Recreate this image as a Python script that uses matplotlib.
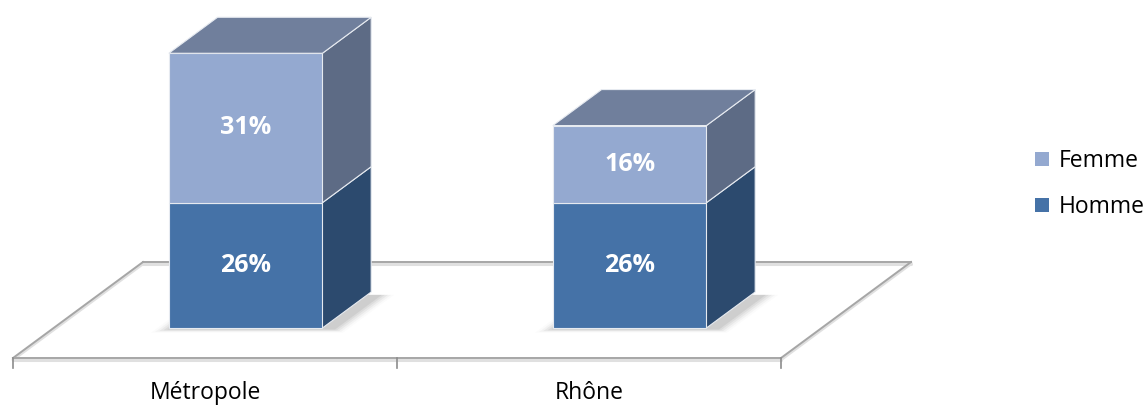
import matplotlib
matplotlib.use("Agg")
import matplotlib.pyplot as plt
from matplotlib.patches import Polygon, Patch
import numpy as np

# ---- data ----
categories = ["Métropole", "Rhône"]
series_names = ["Homme", "Femme"]
homme = [26, 26]
femme = [31, 16]
labels_homme = ["26%", "26%"]
labels_femme = ["31%", "16%"]

# ---- colours ----
front_cols = {"Homme": "#4572A7", "Femme": "#94A9D0"}
side_cols = {"Homme": "#2C4A6E", "Femme": "#5D6B85"}
top_col = "#707F9C"
floor_col = "#A6A6A6"

W, H = 1144, 405
fig = plt.figure(figsize=(W / 100, H / 100), dpi=100)
ax = fig.add_axes([0, 0, 1, 1])
ax.axis("off")

px_per_cat = 384.0
px_per_pct = 4.82
x0_pix = 205.0   # first category centre on floor front (pixels)
y0_pix = 358.0   # floor front line (pixels from top)
ax.set_xlim(-x0_pix / px_per_cat, (W - x0_pix) / px_per_cat)
ax.set_ylim(-(H - y0_pix) / px_per_pct, y0_pix / px_per_pct)

# depth vector of full floor depth (data units)
dxd = 130 / px_per_cat
dyd = 96 / px_per_pct
bar_w = 0.40
f_front, f_back = 0.3125, 0.6875


def P(x, y, d):
    return (x + d * dxd, y + d * dyd)


# floor
n = len(categories)
xl, xr = -0.5, n - 0.5
floor_lines = [
    [P(xl, 0, 0), P(xr, 0, 0)],
    [P(xl, 0, 0), P(xl, 0, 1)],
    [P(xr, 0, 0), P(xr, 0, 1)],
    [P(xl, 0, 1), P(xr, 0, 1)],
]
for seg in floor_lines:
    (xa, ya), (xb, yb) = seg
    ax.plot([xa, xb], [ya - 0.35, yb - 0.35], color="#E0E0E0", lw=2.2,
            solid_capstyle="round", zorder=1)
    ax.plot([xa, xb], [ya, yb], color=floor_col, lw=1.4, zorder=2)
# ticks at category boundaries
for b in np.arange(n + 1) - 0.5:
    ax.plot([b, b], [0, -10 / px_per_pct], color="#8C8C8C", lw=1.2, zorder=2)
for i, c in enumerate(categories):
    ax.text(i, -35 / px_per_pct, c, ha="center", va="center",
            fontsize=16.5, family="Open Sans", color="#000000")

# bars
for i in range(n):
    xa = i - bar_w / 2
    xb = i + bar_w / 2
    # soft shadow on the floor
    for k, a in enumerate(np.linspace(0.09, 0.02, 5)):
        g = 0.008 * (k + 1)
        sh = [P(xa + 0.01 - g, 0, f_front - 0.008 - g * 1.0),
              P(xb + 0.03 + g, 0, f_front - 0.008 - g * 1.0),
              P(xb + 0.03 + g, 0, f_back - 0.03),
              P(xa + 0.01 - g, 0, f_back - 0.03)]
        ax.add_patch(Polygon(sh, closed=True, facecolor="#404040", alpha=a,
                             edgecolor="none", zorder=3))
    base = 0
    stacks = [("Homme", homme[i], labels_homme[i]), ("Femme", femme[i], labels_femme[i])]
    for j, (name, v, lab) in enumerate(stacks):
        y1, y2 = base, base + v
        side = [P(xb, y1, f_front), P(xb, y1, f_back), P(xb, y2, f_back), P(xb, y2, f_front)]
        ax.add_patch(Polygon(side, closed=True, facecolor=side_cols[name],
                             edgecolor="#E6EAF0", lw=0.8, zorder=4))
        front = [P(xa, y1, f_front), P(xb, y1, f_front), P(xb, y2, f_front), P(xa, y2, f_front)]
        ax.add_patch(Polygon(front, closed=True, facecolor=front_cols[name],
                             edgecolor="#E6EAF0", lw=0.8, zorder=5))
        cx, cy = P(i, (y1 + y2) / 2, f_front)
        ax.text(cx, cy, lab, ha="center", va="center", color="white",
                fontsize=18, fontweight="bold", family="Open Sans", zorder=7)
        if j == len(stacks) - 1:
            top = [P(xa, y2, f_front), P(xb, y2, f_front), P(xb, y2, f_back), P(xa, y2, f_back)]
            ax.add_patch(Polygon(top, closed=True, facecolor=top_col,
                                 edgecolor="#E6EAF0", lw=0.8, zorder=6))
        base = y2

# legend
handles = [Patch(facecolor=front_cols["Femme"], edgecolor="none", label="Femme"),
           Patch(facecolor=front_cols["Homme"], edgecolor="none", label="Homme")]
fig.legend(handles=handles, loc="center left", bbox_to_anchor=(1026 / W, 1 - 184 / H),
           frameon=False, handlelength=0.6, handleheight=0.6, handletextpad=0.45,
           labelspacing=0.95, borderaxespad=0, prop={"family": "Open Sans", "size": 16.5})

fig.savefig("out.png", dpi=100)
